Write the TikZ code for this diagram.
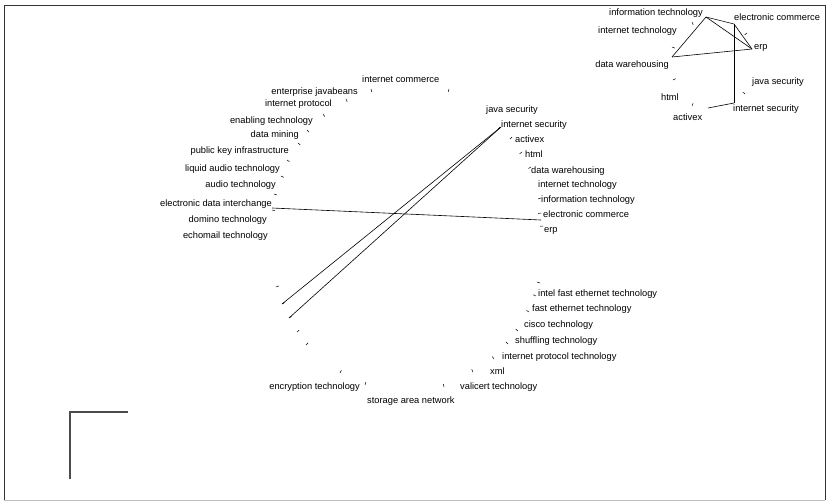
\documentclass[tikz,border=0pt]{standalone}
\usepackage{fontspec}
\setmainfont{Liberation Sans}
\usetikzlibrary{calc}

\begin{document}
\begin{tikzpicture}[
  x=1pt, y=-1pt,
  font=\fontsize{9.3}{10}\selectfont,
  lbl/.style={inner sep=0pt, text height=6.8pt, text depth=2pt},
  lleft/.style={lbl, anchor=east},
  lright/.style={lbl, anchor=west},
  link/.style={line width=0.6pt},
  nodetick/.style={line width=0.5pt},
  frame/.style={line width=1pt, black!80}
]
\useasboundingbox (0,0) rectangle (826,501);

% window frame
\draw[frame] (4,500) -- (4,5) -- (825,5) -- (825,500);
\draw[line width=1pt, black!25] (4,500) -- (825,500);
\draw[line width=1.2pt, black!70] (70,479) -- (70,412) -- (128,412);

% circle layout
\coordinate (ctr) at (408,238);
\node[lright] (icomm) at (362,80) {internet commerce};
\node[lleft] (ejb) at (358,92) {enterprise javabeans};
\node[lleft] (iprot) at (332,104) {internet protocol};
\node[lleft] (enab) at (313,121) {enabling technology};
\node[lleft] (dmin) at (299,135) {data mining};
\node[lleft] (pki) at (289,151) {public key infrastructure};
\node[lleft] (liqa) at (280,169) {liquid audio technology};
\node[lleft] (audio) at (276,185) {audio technology};
\node[lleft] (edil) at (272,204) {electronic data interchange};
\node[lleft] (domino) at (267,220) {domino technology};
\node[lleft] (echo) at (268,236) {echomail technology};

\node[lright] (jsec) at (486,110) {java security};
\node[lright] (isecl) at (501,125) {internet security};
\node[lright] (actx) at (515,140) {activex};
\node[lright] (html) at (525,155) {html};
\node[lright] (dwh) at (531,171) {data warehousing};
\node[lright] (itech) at (538,185) {internet technology};
\node[lright] (infot) at (541,200) {information technology};
\node[lright] (ecoml) at (543,215) {electronic commerce};
\node[lright] (erp) at (544,230) {erp};

\node[lright] (intel) at (538,294) {intel fast ethernet technology};
\node[lright] (feth) at (532,309) {fast ethernet technology};
\node[lright] (cisco) at (524,325) {cisco technology};
\node[lright] (shuf) at (515,341) {shuffling technology};
\node[lright] (iptech) at (502,357) {internet protocol technology};
\node[lright] (xml) at (490,372) {xml};
\node[lright] (vali) at (460,387) {valicert technology};
\node[lright] (san) at (367,401) {storage area network};
\node[lleft] (encr) at (360,387) {encryption technology};

\foreach \x/\y in {449/89, 371/89, 346/99, 323/114, 307/130, 298/143, 287/160,
    281/176, 274/194, 272/210, 276/287, 282/304, 289/318, 297/332, 306/345,
    340/373, 365/385, 444/387, 473/372, 494/359, 508/344, 518/331, 529/312,
    536/296, 540/283, 500/127, 512/137, 522/152, 531/167, 541/198, 541/213, 543/226}
  \draw[nodetick] (\x,\y) -- ($(\x,\y)!3pt!(ctr)$);

\coordinate (isec) at (501,127);
\coordinate (lo1) at (282,304);
\coordinate (lo2) at (289,318);
\coordinate (edi) at (272,208);
\coordinate (ecom) at (541,220);
\draw[link] (isec) -- (lo1);
\draw[link] (isec) -- (lo2);
\draw[link] (edi) -- (ecom);

% small cluster
\coordinate (ctrb) at (710,62);
\node[lleft] (cinfo) at (703,13) {information technology};
\node[lright] (cecom) at (734,18) {electronic commerce};
\node[lleft] (citech) at (677,31) {internet technology};
\node[lright] (cerp) at (754,47) {erp};
\node[lleft] (cdwh) at (669,65) {data warehousing};
\node[lright] (cjsec) at (752,82) {java security};
\node[lleft] (chtml) at (679,98) {html};
\node[lright] (cisec) at (733,109) {internet security};
\node[lright] (cactx) at (673,118) {activex};

\foreach \x/\y in {692/22, 747/33, 672/47, 673/80, 745/94, 692/106}
  \draw[nodetick] (\x,\y) -- ($(\x,\y)!3pt!(ctrb)$);

\coordinate (va) at (706,17);
\coordinate (vb) at (734,24);
\coordinate (vc) at (752,49);
\coordinate (vd) at (672,57);
\coordinate (ve) at (734,103);
\coordinate (vf) at (708,108);
\draw[link] (va) -- (vb);
\draw[link] (va) -- (vc);
\draw[link] (vb) -- (vc);
\draw[link] (va) -- (vd);
\draw[link] (vd) -- (vc);
\draw[link] (vb) -- (ve);
\draw[link] (ve) -- (vf);
\end{tikzpicture}
\end{document}
